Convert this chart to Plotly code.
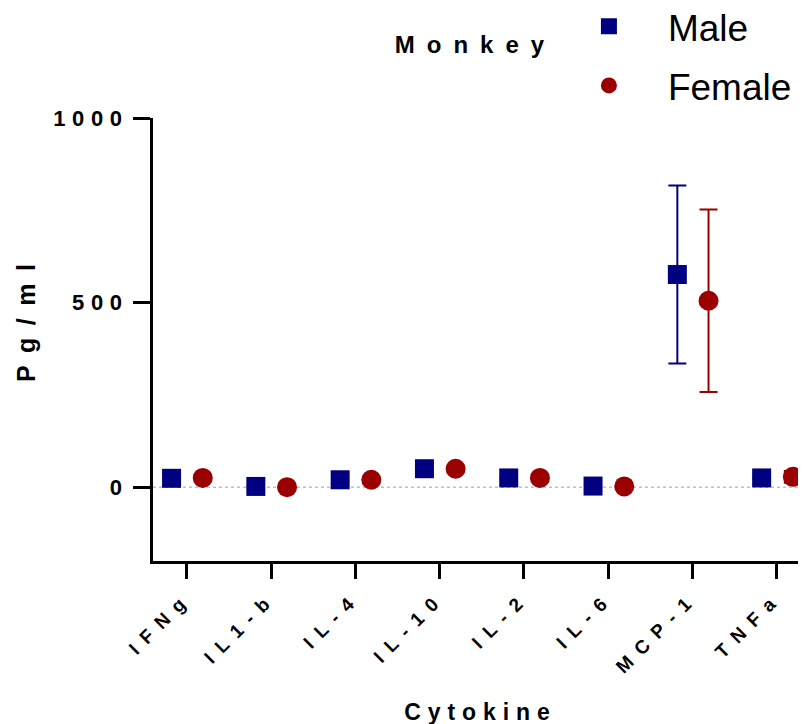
import plotly.graph_objects as go

categories = ["IFNg", "IL1-b", "IL-4", "IL-10", "IL-2", "IL-6", "MCP-1", "TNFa"]
male_values = [24, 2, 20, 50, 25, 3, 576, 25]
male_errors = [3, 2, 3, 4, 3, 2, 241, 3]
female_values = [25, 0, 20, 50, 25, 2, 505, 28]
female_errors = [3, 2, 3, 4, 3, 2, 247, 16]
y_ticks = [0, 500, 1000]

idx = list(range(len(categories)))
male_x = [i - 0.18 for i in idx]
female_x = [i + 0.19 for i in idx]

NAVY = "#000080"
RED = "#9b0000"
FONT = "Liberation Sans, Arial, sans-serif"

fig = go.Figure()
fig.add_trace(go.Scatter(
    x=male_x, y=male_values, mode="markers", name="Male", legendgroup="m",
    marker=dict(symbol="square", size=19, color=NAVY),
    error_y=dict(type="data", array=male_errors, color=NAVY, thickness=2, width=9),
))
fig.add_trace(go.Scatter(
    x=female_x, y=female_values, mode="markers", name="Female", legendgroup="f",
    marker=dict(symbol="circle", size=20, color=RED),
    error_y=dict(type="data", array=female_errors, color=RED, thickness=2, width=9),
))

fig.add_shape(type="line", xref="paper", yref="y", x0=0, x1=1, y0=0, y1=0,
              line=dict(color="#c0c0c0", width=1.5, dash="dot"), layer="below")

fig.add_annotation(text="<b>Pg/ml</b>", textangle=-90, xref="paper", yref="paper",
                   x=-0.194, y=0.551, xanchor="center", yanchor="middle", showarrow=False,
                   font=dict(size=25, family=FONT, color="black"))

fig.update_layout(
    width=806, height=724,
    margin=dict(l=145, r=6, t=110, b=171, autoexpand=False),
    plot_bgcolor="white", paper_bgcolor="white",
    font=dict(family=FONT, color="black"),
    title=dict(text="<b>Monkey</b>", x=0.58, xanchor="center", y=0.949, yanchor="middle",
               font=dict(size=24, family=FONT, color="black")),
    showlegend=True,
    legend=dict(x=0.606, y=1.276, xref="paper", yref="paper", xanchor="left", yanchor="top",
                font=dict(size=37, family=FONT, color="black"),
                bgcolor="rgba(0,0,0,0)", itemsizing="trace", tracegroupgap=8,
                itemwidth=108),
    xaxis=dict(
        range=[-0.4, 7.37], tickmode="array", tickvals=idx, ticktext=[f"<b>{c}</b>" for c in categories],
        tickangle=-45, tickfont=dict(size=19, family=FONT, color="black"),
        showline=True, linecolor="black", linewidth=3, mirror=False,
        ticks="outside", ticklen=15, tickwidth=3, tickcolor="black",
        showgrid=False, zeroline=False,
        title=dict(text="<b>Cytokine</b>", font=dict(size=23, family=FONT, color="black"), standoff=62),
    ),
    yaxis=dict(
        range=[-200, 1000], tickmode="array", tickvals=y_ticks, ticktext=[f"<b>{v}</b>" for v in y_ticks],
        tickfont=dict(size=22, family=FONT, color="black"),
        showline=True, linecolor="black", linewidth=3,
        ticks="outside", ticklen=17, tickwidth=3, tickcolor="black",
        showgrid=False, zeroline=False,
    ),
)

post = """
(function(){
  var gd = document.getElementById('{plot_id}');
  function sp(){
    var set = function(sel, v){ gd.querySelectorAll(sel).forEach(function(t){ t.style.letterSpacing = v; }); };
    set('.xtick text', '0.5em');
    set('.ytick text', '0.3em');
    set('.g-xtitle text', '0.3em');
    set('.annotation-text', '0.5em');
    set('.gtitle', '0.5em');
  }
  sp();
  if (gd.on) { gd.on('plotly_afterplot', sp); }
})();
"""

fig.write_html("out.html", post_script=post)
